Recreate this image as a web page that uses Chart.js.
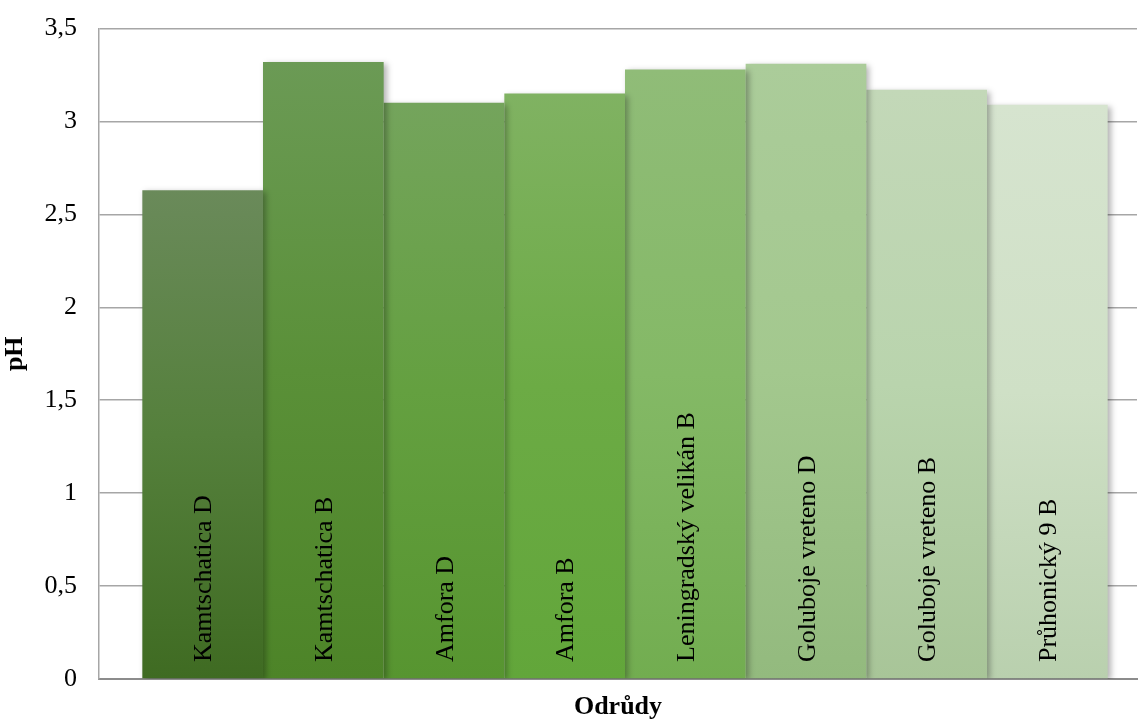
<!DOCTYPE html>
<html>
<head>
    <title>pH odrůd</title>
    <script src="https://cdn.jsdelivr.net/npm/chart.js"></script>
    <style>
        html, body { margin: 0; padding: 0; background: #fff; }
        #wrap { width: 1140px; height: 723px; }
    </style>
</head>
<body>
    <div id="wrap">
        <canvas id="myChart"></canvas>
    </div>
    <script>
        // data
        const varieties = ['Kamtschatica D', 'Kamtschatica B', 'Amfora D', 'Amfora B',
            'Leningradský velikán B', 'Goluboje vreteno D', 'Goluboje vreteno B', 'Průhonický 9 B'];
        const phValues = [2.63, 3.32, 3.10, 3.15, 3.28, 3.31, 3.17, 3.09];
        const yTicks = [0, 0.5, 1, 1.5, 2, 2.5, 3, 3.5];

        // gradient colours per bar: top, middle, bottom
        const topColors = ['#6a8a5a', '#6b9a55', '#74a45c', '#80b262', '#90bc78', '#abcc9a', '#c3d8b8', '#d6e4cf'];
        const midColors = ['#55803c', '#5a9038', '#64a040', '#6cab45', '#84b966', '#a3c88e', '#b9d4ad', '#cfe0c6'];
        const botColors = ['#3f6b22', '#4d8428', '#579530', '#62a63a', '#72ad50', '#93ba7e', '#a8c598', '#b9d0ae'];

        const serif = '"Liberation Serif", "Times New Roman", serif';
        const groupShift = 7; // the bar group sits a bit right of centre in the original

        function barGradient(i) {
            return function (context) {
                const chart = context.chart;
                const area = chart.chartArea;
                if (!area) return midColors[i];
                const y = chart.scales.y;
                const top = y.getPixelForValue(phValues[i]);
                const bottom = y.getPixelForValue(0);
                const g = chart.ctx.createLinearGradient(0, top, 0, bottom);
                g.addColorStop(0, topColors[i]);
                g.addColorStop(0.5, midColors[i]);
                g.addColorStop(1, botColors[i]);
                return g;
            };
        }

        const datasets = varieties.map((name, i) => ({
            label: name,
            data: [phValues[i]],
            backgroundColor: barGradient(i),
            borderWidth: 0,
            barPercentage: 1,
            categoryPercentage: 0.93,
        }));

        // soft shadow under the bars, like the office chart
        const shadowPlugin = {
            id: 'barShadow',
            beforeDatasetsDraw(chart) {
                const ctx = chart.ctx;
                ctx.save();
                ctx.translate(groupShift, 0);
                ctx.shadowColor = 'rgba(0,0,0,0.3)';
                ctx.shadowBlur = 6;
                ctx.shadowOffsetX = 3;
                ctx.shadowOffsetY = 2;
            },
            afterDatasetsDraw(chart) {
                chart.ctx.restore();
            }
        };

        // variety names written upwards inside each bar
        const insideLabels = {
            id: 'insideLabels',
            afterDatasetsDraw(chart) {
                const ctx = chart.ctx;
                const base = chart.scales.y.getPixelForValue(0) - 17;
                ctx.save();
                ctx.font = '26px ' + serif;
                ctx.fillStyle = '#000';
                ctx.textAlign = 'left';
                ctx.textBaseline = 'middle';
                chart.data.datasets.forEach((ds, i) => {
                    const bar = chart.getDatasetMeta(i).data[0];
                    ctx.save();
                    ctx.translate(bar.x + groupShift + 2, base);
                    ctx.rotate(-Math.PI / 2);
                    ctx.fillText(ds.label, 0, 0);
                    ctx.restore();
                });
                ctx.restore();
            }
        };

        const ctx = document.getElementById('myChart').getContext('2d');
        const myChart = new Chart(ctx, {
            type: 'bar',
            data: {
                labels: [''],
                datasets: datasets,
            },
            plugins: [shadowPlugin, insideLabels],
            options: {
                responsive: true,
                maintainAspectRatio: false,
                animation: false,
                layout: { padding: { top: 28, right: 3, left: 0, bottom: 0 } },
                plugins: {
                    legend: { display: false },
                    tooltip: { enabled: false },
                },
                scales: {
                    x: {
                        grid: { display: false, drawTicks: false },
                        border: { display: true, color: '#8c8c8c', width: 2 },
                        ticks: { display: false },
                        title: {
                            display: true,
                            text: 'Odrůdy',
                            color: '#000',
                            font: { family: serif, size: 26, weight: 'bold' },
                            padding: { top: 12, bottom: 0 },
                        },
                        afterFit: s => { s.height = 44; },
                    },
                    y: {
                        min: 0,
                        max: 3.5,
                        afterBuildTicks: s => { s.ticks = yTicks.map(v => ({ value: v })); },
                        ticks: {
                            color: '#000',
                            font: { family: serif, size: 26, lineHeight: 0.5 },
                            padding: 22,
                            callback: v => String(v).replace('.', ','),
                        },
                        grid: { color: '#a6a6a6', lineWidth: 1.5, drawTicks: false },
                        border: { display: true, color: '#a6a6a6', width: 1.5 },
                        title: {
                            display: true,
                            text: 'pH',
                            color: '#000',
                            font: { family: serif, size: 26, weight: 'bold' },
                            padding: { top: 0, bottom: 4 },
                        },
                        afterFit: s => { s.width = 99; },
                    },
                },
            },
        });
    </script>
</body>
</html>
